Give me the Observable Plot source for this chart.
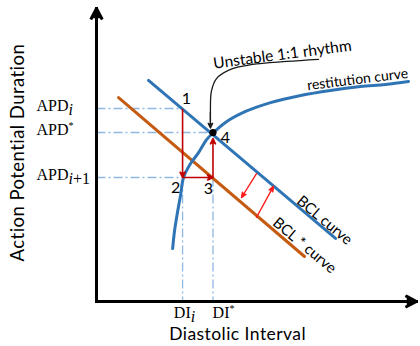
<!DOCTYPE html>
<html><head><meta charset="utf-8">
<script src="https://cdn.jsdelivr.net/npm/d3@7"></script>
<script src="https://cdn.jsdelivr.net/npm/@observablehq/plot@0.6"></script>
<style>html,body{margin:0;padding:0;background:#fff;} #chart svg{display:block;}</style>
</head><body><div id="chart"></div>
<script>
// Restitution curve (DI -> APD) (arbitrary units 0-100)
const restitutionDI  = [23.8, 24.4, 25.3, 26.3, 27.2, 29.4, 31.9, 34.4, 36.3, 40.3, 46.6, 54.4, 63.8, 73.1, 82.5, 90.3, 97.5];
const restitutionAPD = [17.9, 24.0, 30.1, 36.1, 41.9, 46.6, 50.3, 54.7, 56.8, 60.5, 64.2, 67.2, 69.6, 71.3, 72.6, 73.3, 74.3];
// BCL lines
const bclDI = [16.25, 74.7], bclAPD = [74.7, 21.3];
const bclStarDI = [6.9, 65.0], bclStarAPD = [68.9, 15.2];
// Key values
const DI_i = 26.9, DI_star = 36.4;
const APD_i = 65.2, APD_star = 57.1, APD_next = 41.9;
// Tick labels
const yTickValues = [APD_i, APD_star, APD_next];
const yTickLabels = ["APD_i", "APD^*", "APD_i+1"];
const xTickPos = [27.5, 39.7];
const xTickLabels = ["DI_i", "DI^*"];
// Point labels
const pointNames = ["1", "2", "3", "4"];
const pointLabelDI  = [28.1, 24.7, 35.0, 40.3];
const pointLabelAPD = [68.6, 38.5, 38.2, 55.4];
// Annotation texts
const noteTexts  = ["Unstable 1:1 rhythm", "restitution curve", "BCL curve", "BCL * curve"];
const noteDI     = [58.1, 81.6, 71.25, 65.0];
const noteAPD    = [83.4, 75.0, 27.4, 18.9];
const noteRotate = [-7.5, -7, 40, 40];
const noteSize   = [15.5, 14, 15, 15];
// Annotation pointer curve
const pointerDI  = [69.4, 59.5, 48.75, 41.9, 37.5, 35.9, 35.6, 35.6];
const pointerAPD = [81.8, 81.1, 80.1, 78.4, 75.3, 71.0, 64.5, 60.5];
// Shift arrows between BCL and BCL*
const shiftFrom = [[50.0, 43.2], [50.0, 28.4]];
const shiftTo   = [[45.3, 35.1], [55.3, 38.9]];
// Axis titles
const xTitle = "Diastolic Interval", yTitle = "Action Potential Duration";

const blue = "#2f75b5", orange = "#c55a11", guide = "#8fb8e3", darkRed = "#c00000";

const resData = restitutionDI.map((d, i) => ({x: d, y: restitutionAPD[i]}));
const bcl = bclDI.map((d, i) => ({x: d, y: bclAPD[i]}));
const bclStar = bclStarDI.map((d, i) => ({x: d, y: bclStarAPD[i]}));
const pointer = pointerDI.map((d, i) => ({x: d, y: pointerAPD[i]}));
const guides = [
  {x1: 0, y1: APD_i, x2: DI_i, y2: APD_i},
  {x1: 0, y1: APD_star, x2: DI_star, y2: APD_star},
  {x1: 0, y1: APD_next, x2: DI_i, y2: APD_next},
  {x1: DI_i, y1: APD_next, x2: DI_i, y2: 0},
  {x1: DI_star, y1: APD_next, x2: DI_star, y2: 0}
];
const steps = [
  {x1: DI_i, y1: APD_i, x2: DI_i, y2: APD_next},
  {x1: DI_i, y1: APD_next, x2: DI_star, y2: APD_next}
];
const lastStep = [{x1: DI_star, y1: APD_next, x2: DI_star, y2: APD_star}];
const shifts = shiftFrom.map((f, i) => ({x1: f[0], y1: f[1], x2: shiftTo[i][0], y2: shiftTo[i][1]}));
const axes = [{x1: 0, y1: 0, x2: 0, y2: 99}, {x1: 0, y1: 0, x2: 100, y2: 0}];
const pointLabels = pointNames.map((t, i) => ({t, x: pointLabelDI[i], y: pointLabelAPD[i]}));
const notes = noteTexts.map((t, i) => ({t, x: noteDI[i], y: noteAPD[i], r: noteRotate[i], s: noteSize[i]}));
const yTicks = yTickValues.map((v, i) => ({v, t: yTickLabels[i]}));
const xTicks = xTickPos.map((v, i) => ({v, t: xTickLabels[i]}));

const sans = "Lato, 'Open Sans', sans-serif";
const serif = "'Liberation Serif', 'DejaVu Serif', serif";

const svg = Plot.plot({
  width: 420, height: 346,
  marginLeft: 96, marginRight: 4, marginTop: 5, marginBottom: 45,
  x: {domain: [0, 100], axis: null},
  y: {domain: [0, 100], axis: null},
  style: {background: "#fff", color: "#000", fontFamily: sans},
  marks: [
    Plot.link(guides, {x1: "x1", y1: "y1", x2: "x2", y2: "y2", stroke: guide, strokeWidth: 1.3, strokeDasharray: "9,3,2,3"}),
    Plot.line(bclStar, {x: "x", y: "y", stroke: orange, strokeWidth: 3}),
    Plot.line(bcl, {x: "x", y: "y", stroke: blue, strokeWidth: 3}),
    Plot.line(resData, {x: "x", y: "y", stroke: blue, strokeWidth: 3, curve: "catmull-rom"}),
    Plot.arrow(steps, {x1: "x1", y1: "y1", x2: "x2", y2: "y2", stroke: darkRed, fill: darkRed, strokeWidth: 1.6, headLength: 5.5, headAngle: 50, insetStart: 1}),
    Plot.arrow(lastStep, {x1: "x1", y1: "y1", x2: "x2", y2: "y2", stroke: darkRed, fill: darkRed, strokeWidth: 1.6, headLength: 5.5, headAngle: 50, insetEnd: 6}),
    Plot.arrow(shifts, {x1: "x1", y1: "y1", x2: "x2", y2: "y2", stroke: "#ff1a1a", fill: "#ff1a1a", strokeWidth: 1.3, headLength: 6.5, headAngle: 45}),
    Plot.line(pointer, {x: "x", y: "y", stroke: "#1a1a1a", strokeWidth: 1.3, curve: "catmull-rom"}),
    Plot.arrow([{x1: DI_star - 0.8, y1: 64, x2: DI_star - 0.8, y2: 58.6}], {x1: "x1", y1: "y1", x2: "x2", y2: "y2", stroke: "#1a1a1a", fill: "#1a1a1a", strokeWidth: 1.3, headLength: 6.5, headAngle: 50}),
    Plot.dot([{x: DI_star, y: APD_star}], {x: "x", y: "y", r: 3.6, fill: "#000"}),
    Plot.arrow(axes, {x1: "x1", y1: "y1", x2: "x2", y2: "y2", stroke: "#000", fill: "#000", strokeWidth: 3, headLength: 5.5, headAngle: 55, strokeLinecap: "square"}),
    Plot.text(pointLabels, {x: "x", y: "y", text: "t", fontSize: 16, fontFamily: sans, fill: "#000"}),
    Plot.text(notes, {x: "x", y: "y", text: "t", rotate: "r", fontSize: "s", fontFamily: sans, fill: "#000"}),
    Plot.text(yTicks, {x: -18.75, y: "v", text: "t", textAnchor: "start", dy: -3, fontSize: 16, fontFamily: serif, fill: "#000"}),
    Plot.text(xTicks, {x: "v", y: -3.7, text: "t", fontSize: 16, fontFamily: serif, fill: "#000"}),
    Plot.text([xTitle], {x: 44.1, y: -11.2, text: d => d, fontSize: 17.5, fontFamily: sans, fill: "#000"}),
    Plot.text([yTitle], {x: -24.4, y: 50.3, text: d => d, rotate: -90, fontSize: 18.5, fontFamily: sans, fill: "#000"})
  ]
});

// Render sub/superscripts of tick labels as real text tspans; widen axis titles
d3.select(svg).selectAll("text").each(function() {
  const t = this.textContent;
  if (t === xTitle || t === yTitle) { this.style.letterSpacing = "0.45px"; return; }
  const m = t.match(/^([A-Za-z]+)([_^])(.+)$/);
  if (!m) return;
  const sel = d3.select(this);
  sel.text(null);
  sel.append("tspan").text(m[1]);
  if (m[2] === "_") {
    const parts = m[3].match(/[a-z]+|[^a-z]+/g);
    parts.forEach((p, k) => {
      const ts = sel.append("tspan").text(p);
      if (k === 0) ts.attr("dy", 4);
      if (/^[a-z]+$/.test(p)) ts.attr("font-style", "italic");
    });
  } else {
    sel.append("tspan").attr("dy", -6).attr("font-size", 10).text(m[3]);
  }
});

document.getElementById("chart").appendChild(svg);
</script>
</body></html>
